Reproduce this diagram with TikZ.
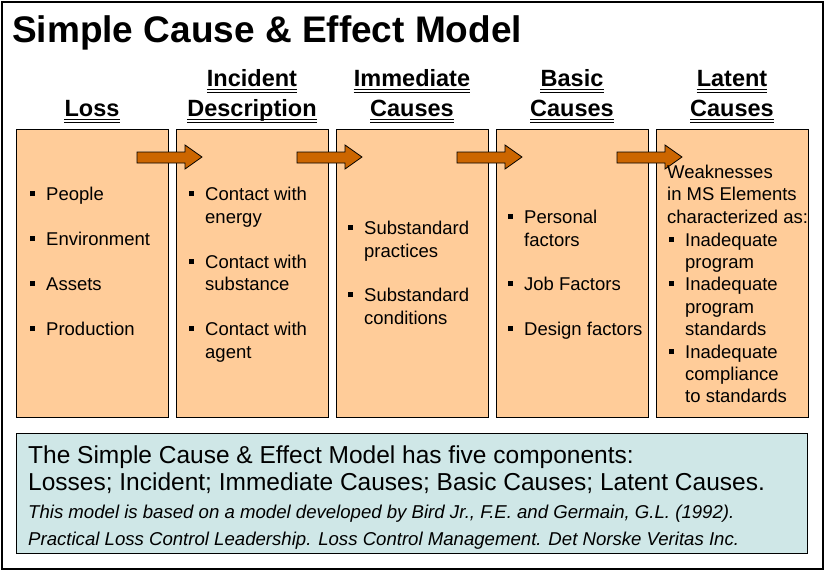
\documentclass[tikz,border=0pt]{standalone}
\usepackage{fontspec}
\setmainfont{Liberation Sans}
\usetikzlibrary{calc}
\definecolor{peach}{RGB}{255,204,153}
\definecolor{arrowc}{RGB}{204,102,0}
\definecolor{notefill}{RGB}{207,231,231}
\newcommand{\sqb}{\makebox[0pt][r]{\rule[4pt]{5pt}{5pt}\hspace{11.5pt}}}
\begin{document}
\begin{tikzpicture}[x=1pt,y=-1pt,
  colbox/.style={draw=black, line width=1pt, fill=peach, minimum width=152pt, minimum height=288pt, anchor=north west, inner sep=0pt},
  head/.style={font=\fontsize{23.5}{26}\selectfont\bfseries, anchor=base, inner sep=0pt},
  item/.style={font=\fontsize{18.5}{22}\selectfont, anchor=base west, inner sep=0pt},
  note/.style={font=\fontsize{24.5}{28}\selectfont, anchor=base west, inner sep=0pt},
  notei/.style={font=\fontsize{18.6}{20}\selectfont\itshape, anchor=base west, inner sep=0pt},
  blockarrow/.style={draw=black, line width=0.8pt, fill=arrowc, line join=miter},
  ulA/.style={line width=1.3pt},
  ulB/.style={line width=0.6pt},
]
\useasboundingbox (0,0) rectangle (825,571);
\node[draw=black, line width=1.5pt, minimum width=821pt, minimum height=567pt, anchor=north west, inner sep=0pt] (frame) at (1,1) {};
\node[anchor=base west, inner sep=0pt, font=\fontsize{37}{40}\selectfont\bfseries] (title) at (12,42) {Simple Cause \& Effect Model};

% column boxes
\node[colbox] (b1) at (16,129) {};
\node[colbox] (b2) at (176,129) {};
\node[colbox] (b3) at (336,129) {};
\node[colbox] (b4) at (496,129) {};
\node[colbox] (b5) at (656,129) {};

% headings
\node[head] (h1) at (92,116) {Loss};
\node[head] (h2a) at (252,86) {Incident};
\node[head] (h2b) at (252,116) {Description};
\node[head] (h3a) at (412,86) {Immediate};
\node[head] (h3b) at (412,116) {Causes};
\node[head] (h4a) at (572,86) {Basic};
\node[head] (h4b) at (572,116) {Causes};
\node[head] (h5a) at (732,86) {Latent};
\node[head] (h5b) at (732,116) {Causes};
\foreach \h in {h1,h2a,h2b,h3a,h3b,h4a,h4b,h5a,h5b}{
  \draw[ulA] ($(\h.base west)+(0,3.5)$) -- ($(\h.base east)+(0,3.5)$);
  \draw[ulB] ($(\h.base west)+(0,6)$) -- ($(\h.base east)+(0,6)$);
}

% arrows between boxes
\foreach \a/\b in {b1/b2,b2/b3,b3/b4,b4/b5}{
  \draw[blockarrow] ($(\a.north east)+(-32,23)$) -- ++(48,0) -- ++(0,-7) -- ++(17,12) -- ++(-17,12) -- ++(0,-6) -- ++(-48,0) -- cycle;
}

% box 1
\node[item] (l1) at (46,200) {\sqb People};
\node[item] (l2) at (46,245) {\sqb Environment};
\node[item] (l3) at (46,290) {\sqb Assets};
\node[item] (l4) at (46,335) {\sqb Production};
% box 2
\node[item] (i1) at (205,200) {\sqb Contact with};
\node[item] (i1b) at (205,223) {energy};
\node[item] (i2) at (205,268) {\sqb Contact with};
\node[item] (i2b) at (205,290) {substance};
\node[item] (i3) at (205,335) {\sqb Contact with};
\node[item] (i3b) at (205,358) {agent};
% box 3
\node[item] (m1) at (364,234) {\sqb Substandard};
\node[item] (m1b) at (364,257) {practices};
\node[item] (m2) at (364,301) {\sqb Substandard};
\node[item] (m2b) at (364,324) {conditions};
% box 4
\node[item] (c1) at (524,223) {\sqb Personal};
\node[item] (c1b) at (524,246) {factors};
\node[item] (c2) at (524,290) {\sqb Job Factors};
\node[item] (c3) at (524,335) {\sqb Design factors};
% box 5
\node[item] (w1) at (667,178) {Weaknesses};
\node[item] (w2) at (667,200) {in MS Elements};
\node[item] (w3) at (667,223) {characterized as:};
\node[item] (w4) at (685,246) {\sqb Inadequate};
\node[item] (w5) at (685,268) {program};
\node[item] (w6) at (685,290) {\sqb Inadequate};
\node[item] (w7) at (685,313) {program};
\node[item] (w8) at (685,335) {standards};
\node[item] (w9) at (685,358) {\sqb Inadequate};
\node[item] (w10) at (685,380) {compliance};
\node[item] (w11) at (685,402) {to standards};

% note box
\node[draw=black, line width=1pt, fill=notefill, minimum width=791pt, minimum height=120pt, anchor=north west, inner sep=0pt] (nb) at (16,433) {};
\node[note] (n1) at (28,463) {The Simple Cause \& Effect Model has five components:};
\node[note] (n2) at (28,490) {Losses; Incident; Immediate Causes; Basic Causes; Latent Causes.};
\node[notei] (n3) at (28,518) {This model is based on a model developed by Bird Jr., F.E. and Germain, G.L. (1992).};
\node[notei] (n4) at (28,545) {Practical Loss Control Leadership. Loss Control Management. Det Norske Veritas Inc.};
\end{tikzpicture}
\end{document}
